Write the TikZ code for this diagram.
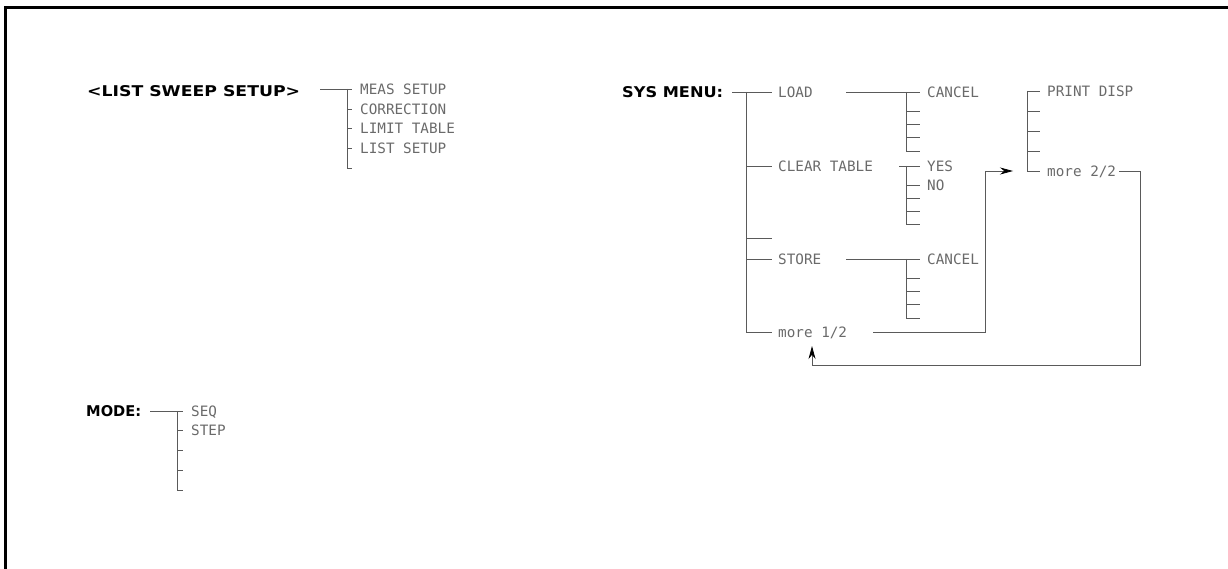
\documentclass[tikz,border=0pt]{standalone}
\usepackage{fontspec}
\usepackage{graphicx}
\usetikzlibrary{arrows.meta}
\newfontfamily\monofont{DejaVu Sans Mono}
\newfontfamily\headfont{DejaVu Sans}
\definecolor{ink}{HTML}{5A5A5A}
\definecolor{txt}{HTML}{6A6A6A}
\tikzset{
  ln/.style={draw=ink, line width=0.8pt},
  item/.style={anchor=base west, inner sep=0pt, text=txt,
    font=\monofont\fontsize{14.3}{16}\selectfont},
  head/.style={anchor=base west, inner sep=0pt, text=black,
    font=\headfont\bfseries\fontsize{15}{18}\selectfont},
  tipr/.style={-{Stealth[length=13pt,width=7pt,black]}}
}
\begin{document}
\begin{tikzpicture}[x=1pt,y=-1pt]
\useasboundingbox (0,0) rectangle (1228,569);
% frame
\draw[line width=3pt] (5.5,569) -- (5.5,7.5) -- (1228,7.5);

% ---------- LIST SWEEP SETUP ----------
\node[head] (lss) at (87,96.5) {\resizebox{213pt}{11pt}{<LIST SWEEP SETUP>}};
\coordinate (lsA) at (320,89);
\coordinate (lsJ) at (347,89);
\coordinate (lsB) at (347,168);
\draw[ln] (lsA) -- (352,89);
\draw[ln] (lsJ) -- (lsB) -- ++(5,0);
\foreach \y in {109,128,148} \draw[ln] (347,\y) -- ++(5,0);
\node[item] (meas) at (360,94.3) {MEAS SETUP};
\node[item] (corr) at (360,114.3) {CORRECTION};
\node[item] (limt) at (360,133.3) {LIMIT TABLE};
\node[item] (lstu) at (360,153.3) {LIST SETUP};

% ---------- MODE ----------
\node[head] (mode) at (86,416.5) {\resizebox{55pt}{11pt}{MODE:}};
\coordinate (mdA) at (150,411);
\coordinate (mdJ) at (177,411);
\coordinate (mdB) at (177,490);
\draw[ln] (mdA) -- (183,411);
\draw[ln] (mdJ) -- (mdB) -- ++(6,0);
\foreach \y in {430,450,470} \draw[ln] (177,\y) -- ++(6,0);
\node[item] (seq) at (191,416.3) {SEQ};
\node[item] (stp) at (191,435.3) {STEP};

% ---------- SYS MENU ----------
\node[head] (sys) at (622,97.5) {\resizebox{101pt}{11pt}{SYS MENU:}};
\coordinate (smA) at (732,92);
\coordinate (smJ) at (746,92);
\coordinate (smB) at (746,332);
\draw[ln] (smA) -- (772,92);
\draw[ln] (smJ) -- (smB) -- (772,332);
\foreach \y in {166,238,259} \draw[ln] (746,\y) -- (772,\y);
\node[item] (load) at (778,97.3) {LOAD};
\node[item] (clr)  at (778,171.3) {CLEAR TABLE};
\node[item] (sto)  at (778,264.3) {STORE};
\node[item] (m1)   at (778,337.3) {more 1/2};

% LOAD sub-menu
\draw[ln] (846,92) -- (920,92);
\draw[ln] (906,92) -- (906,151) -- (920,151);
\foreach \y in {111,124,137.5} \draw[ln] (906,\y) -- (920,\y);
\node[item] (lcan) at (927,97.3) {CANCEL};

% CLEAR TABLE sub-menu
\draw[ln] (899,166) -- (920,166);
\draw[ln] (906,166) -- (906,224) -- (920,224);
\foreach \y in {185,198,211} \draw[ln] (906,\y) -- (920,\y);
\node[item] (yes) at (927,171.3) {YES};
\node[item] (no)  at (927,190.3) {NO};

% STORE sub-menu
\draw[ln] (846,259) -- (920,259);
\draw[ln] (906,259) -- (906,318) -- (920,318);
\foreach \y in {278,291,304.7} \draw[ln] (906,\y) -- (920,\y);
\node[item] (scan) at (927,264.3) {CANCEL};

% page 2/2
\draw[ln] (1027,91) -- (1040,91);
\draw[ln] (1027,91) -- (1027,171) -- (1040,171);
\foreach \y in {111,131,151} \draw[ln] (1027,\y) -- (1040,\y);
\node[item] (prt) at (1047,96.3) {PRINT DISP};
\node[item] (m2)  at (1047,176.3) {more 2/2};

% page links
\coordinate (m1out) at (873,332);
\coordinate (p2in)  at (1013,171);
\coordinate (m2out) at (1119,171);
\coordinate (m1in)  at (812,346);
\draw[ln,tipr] (m1out) -| (985,171) -- (p2in);
\draw[ln,tipr] (m2out) -| (1140,365) -| (m1in);
\end{tikzpicture}
\end{document}
